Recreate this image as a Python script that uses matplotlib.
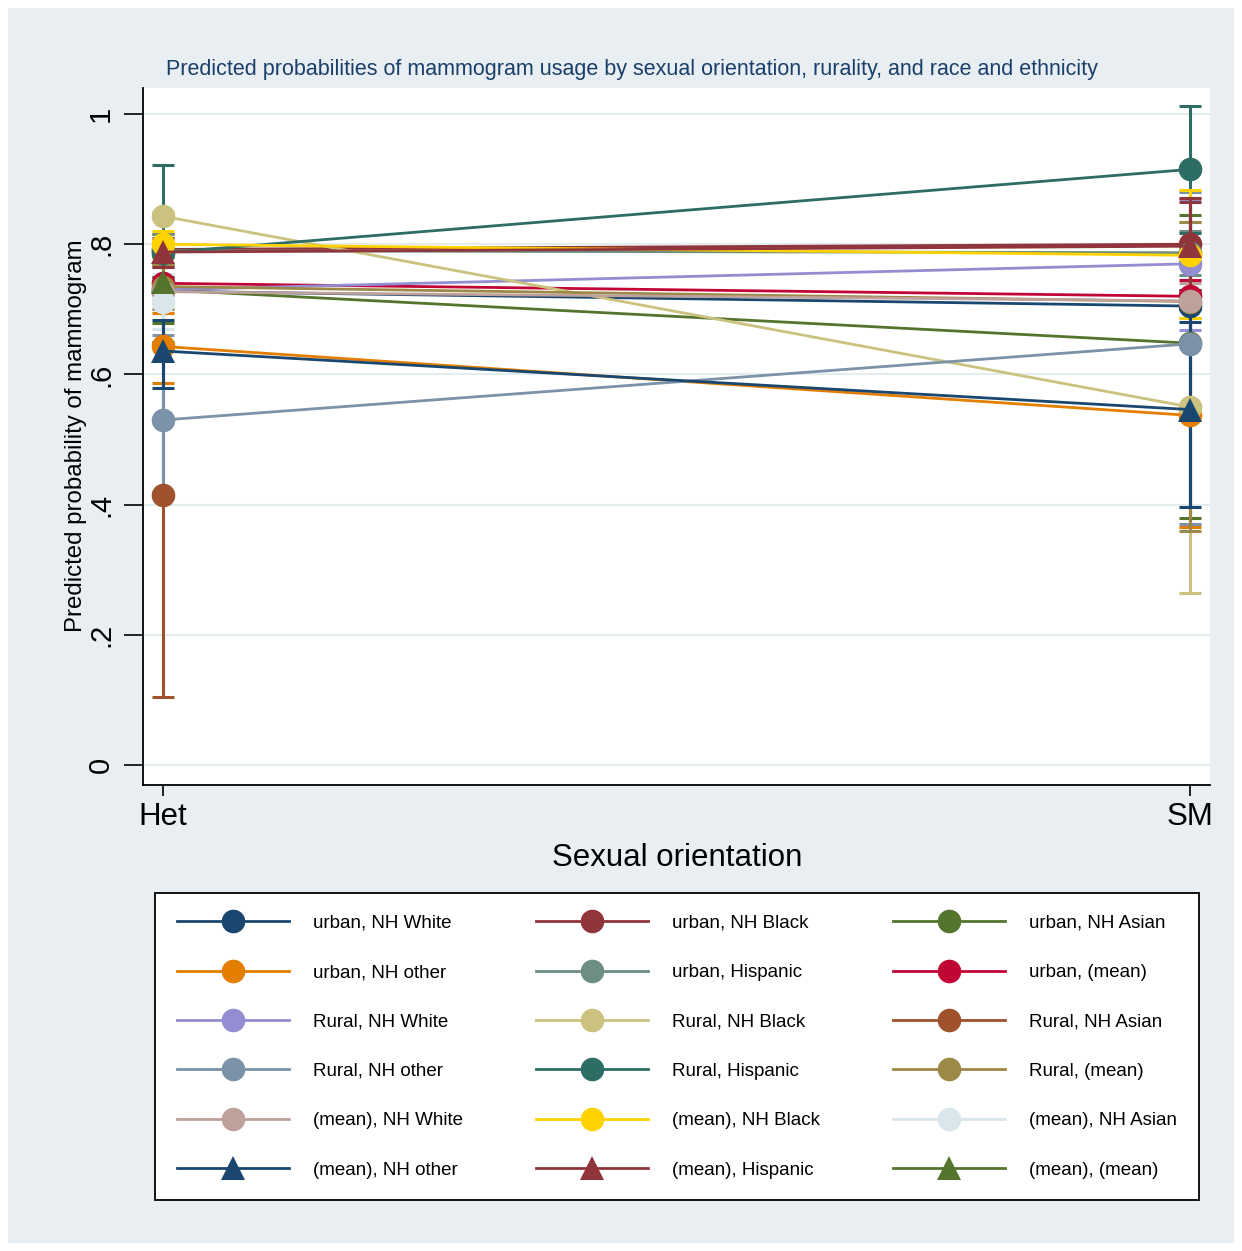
import numpy as np
import matplotlib
matplotlib.use("Agg")
from matplotlib import pyplot as plt
from matplotlib.patches import Rectangle

plt.rcParams['font.family'] = ['Liberation Sans', 'DejaVu Sans']

# data
groups = ["Het", "SM"]
labels = [
    "urban, NH White", "urban, NH Black", "urban, NH Asian",
    "urban, NH other", "urban, Hispanic", "urban, (mean)",
    "Rural, NH White", "Rural, NH Black", "Rural, NH Asian",
    "Rural, NH other", "Rural, Hispanic", "Rural, (mean)",
    "(mean), NH White", "(mean), NH Black", "(mean), NH Asian",
    "(mean), NH other", "(mean), Hispanic", "(mean), (mean)",
]
het = [0.728, 0.792, 0.730, 0.643, 0.790, 0.740, 0.730, 0.843, 0.415,
       0.530, 0.787, 0.735, 0.727, 0.800, 0.712, 0.636, 0.788, 0.742]
het_lo = [0.715, 0.770, 0.679, 0.587, 0.765, 0.730, 0.710, 0.805, 0.104,
          0.420, 0.650, 0.700, 0.715, 0.780, 0.670, 0.579, 0.765, 0.735]
het_hi = [0.741, 0.815, 0.780, 0.694, 0.815, 0.750, 0.750, 0.850, 0.726,
          0.660, 0.922, 0.770, 0.740, 0.820, 0.755, 0.683, 0.810, 0.750]
sm = [0.705, 0.800, 0.648, 0.537, 0.787, 0.720, 0.770, 0.550, np.nan,
      0.647, 0.915, 0.712, 0.713, 0.783, np.nan, 0.546, 0.797, np.nan]
sm_lo = [0.680, 0.730, 0.379, 0.365, 0.753, 0.700, 0.668, 0.264, np.nan,
         0.370, 0.817, 0.360, 0.687, 0.687, np.nan, 0.396, 0.725, np.nan]
sm_hi = [0.730, 0.865, 0.845, 0.713, 0.820, 0.745, 0.870, 0.834, np.nan,
         0.880, 1.012, 0.834, 0.740, 0.883, np.nan, 0.700, 0.871, np.nan]

colors = ["#1a476f", "#90353b", "#55752f", "#e37e00", "#6e8e84", "#c10534",
          "#938dd2", "#cac27e", "#a0522d", "#7b92a8", "#2d6d66", "#9c8847",
          "#bfa19c", "#ffd200", "#d9e6eb", "#1a476f", "#90353b", "#55752f"]
markers = ["o"] * 15 + ["^"] * 3

fig = plt.figure(figsize=(12.42, 12.51), dpi=100)
fig.patch.set_facecolor("white")
fig.patches.append(Rectangle((8 / 1242, 8 / 1251), 1226 / 1242, 1235 / 1251,
                             transform=fig.transFigure, facecolor="#e8eef1",
                             edgecolor="none", zorder=-10))

ax = fig.add_axes([143 / 1242, 1 - 785 / 1251, (1210 - 143) / 1242, (785 - 88) / 1251])
ax.set_facecolor("white")

x = np.arange(len(groups))
for i in range(len(labels)):
    lo = np.array([het_lo[i], sm_lo[i]])
    hi = np.array([het_hi[i], sm_hi[i]])
    for xi in range(2):
        if np.isnan(lo[xi]):
            continue
        ax.vlines(x[xi], lo[xi], hi[xi], color=colors[i], lw=2.2, zorder=2)
        ax.hlines([lo[xi], hi[xi]], x[xi] - 0.011, x[xi] + 0.011, color=colors[i], lw=2.2, zorder=2)

handles = []
for i in range(len(labels)):
    y = [het[i], sm[i]]
    h, = ax.plot(x, y, color=colors[i], lw=2.0, marker=markers[i], markersize=17,
                 markeredgewidth=0, zorder=3 + i * 0.01, label=labels[i])
    handles.append(h)

ax.set_xlim(-0.0195, 1.0195)
ax.set_ylim(-0.0307, 1.04)
ax.set_xticks(x)
ax.set_xticklabels(groups, fontsize=22.5)
ax.set_yticks([0, 0.2, 0.4, 0.6, 0.8, 1.0])
ax.set_yticklabels(["0", ".2", ".4", ".6", ".8", "1"], fontsize=21, rotation=90, va="center")
ax.tick_params(axis="y", length=14, width=1.2, pad=6)
ax.tick_params(axis="x", length=8, width=1.2, pad=4)
ax.grid(axis="y", color="#e4ecef", lw=1.5)
ax.set_axisbelow(True)
for s in ["top", "right"]:
    ax.spines[s].set_visible(False)
for s in ["left", "bottom"]:
    ax.spines[s].set_linewidth(1.3)

ax.set_ylabel("Predicted probability of mammogram", fontsize=17.3)
ax.yaxis.set_label_coords((87 - 143) / (1210 - 143), (785 - 436) / (785 - 88))
ax.set_xlabel("Sexual orientation", fontsize=22.5)
ax.xaxis.set_label_coords((677 - 143) / (1210 - 143), -(858 - 785) / (785 - 88))
ax.xaxis.label.set_va("center")
fig.text(632 / 1242, 1 - 69 / 1251, "Predicted probabilities of mammogram usage by sexual orientation, rurality, and race and ethnicity",
         ha="center", va="center", fontsize=15.5, color="#1a3f6b")

# legend is row-major in the reference; matplotlib fills columns first
order = [r * 3 + c for c in range(3) for r in range(6)]
leg = fig.legend([handles[k] for k in order], [labels[k] for k in order], ncol=3,
                 loc="upper left",
                 bbox_to_anchor=(155 / 1242, 1 - 893 / 1251, (1199 - 155) / 1242, 0.0),
                 mode="expand", fontsize=13.5, frameon=True, fancybox=False,
                 edgecolor="black", facecolor="white", framealpha=1,
                 handlelength=6.0, handletextpad=1.3, labelspacing=1.72,
                 borderpad=1.15, borderaxespad=0, markerscale=1.0)
leg.get_frame().set_linewidth(1.3)

fig.savefig("out.png", dpi=100, facecolor=fig.get_facecolor())
